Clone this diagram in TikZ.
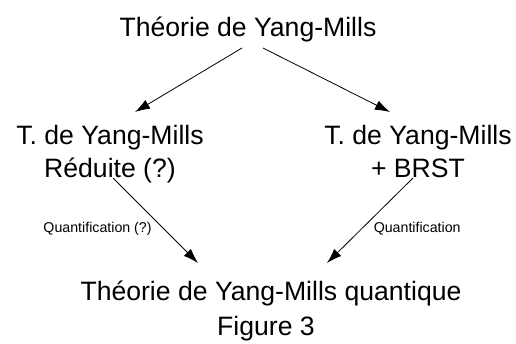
\documentclass[tikz,border=0pt]{standalone}
\usepackage{fontspec}
\setmainfont{Liberation Sans}
\usetikzlibrary{arrows.meta}

\begin{document}
\begin{tikzpicture}[x=1pt, y=-1pt, >={Latex[length=15pt,width=10pt]},
  big/.style={font=\fontsize{26.6}{32.5}\selectfont, inner sep=0pt, align=center},
  small/.style={font=\fontsize{14.2}{17}\selectfont, inner sep=0pt},
  link/.style={->, line width=0.8pt}]
  \useasboundingbox (0,0) rectangle (516,343);

  \node[big, anchor=base] (ym) at (248,36) {Théorie de Yang-Mills};
  \node[big, anchor=base] (red) at (110,177) {T. de Yang-Mills\\Réduite (?)};
  \node[big, anchor=base] (brst) at (418,177) {T. de Yang-Mills\\+ BRST};
  \node[big, anchor=base] (qym) at (271,300) {Théorie de Yang-Mills quantique};
  \node[big, anchor=base] (fig) at (266,335) {Figure 3};

  \draw[link] ([shift={(-6,12)}]ym.base) -- ([shift={(25,-65)}]red.base);
  \draw[link] ([shift={(15,12)}]ym.base) -- ([shift={(-28,-65)}]brst.base);
  \draw[link] ([shift={(3,1)}]red.base) --
    node[small, pos=0.6, left=12pt] (qlab) {Quantification (?)} ([shift={(-73,-37)}]qym.base);
  \draw[link] ([shift={(-5,1)}]brst.base) --
    node[small, pos=0.6, right=12pt] (qrlab) {Quantification} ([shift={(56,-37)}]qym.base);
\end{tikzpicture}
\end{document}
